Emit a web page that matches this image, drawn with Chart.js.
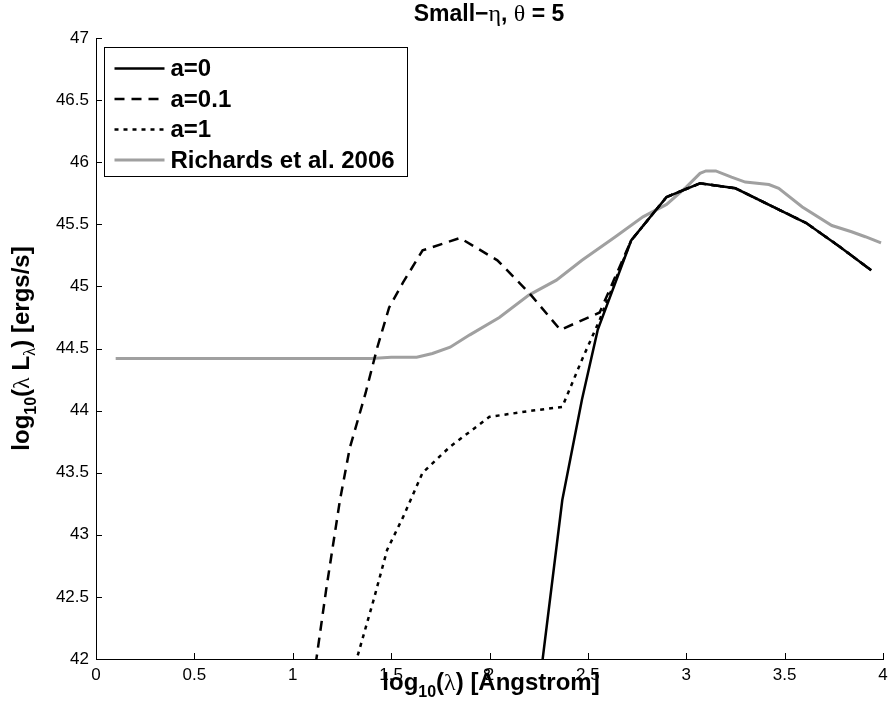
<!DOCTYPE html>
<html lang="en">
<head>
  <meta charset="UTF-8" />
  <title>Small-eta, theta = 5</title>
  <style>
    body {
      margin: 0;
      background-color: white;
    }
    #wrap {
      width: 892px;
      height: 719px;
    }
  </style>
</head>
<body>
  <div id="wrap"><canvas id="sedChart" width="892" height="719"></canvas></div>

  <script src="https://cdn.jsdelivr.net/npm/chart.js"></script>
  <script>
    // values: log10(lambda) and log10(lambda L_lambda)
    const a0X = [2.20, 2.37, 2.47, 2.55, 2.72, 2.90, 3.07, 3.25, 3.61, 3.78, 3.94];
    const a0Y = [41.10, 43.28, 44.09, 44.65, 45.37, 45.72, 45.83, 45.79, 45.51, 45.32, 45.13];

    const a01X = [1.08, 1.17, 1.24, 1.29, 1.37, 1.43, 1.49, 1.56, 1.66, 1.85, 2.04, 2.20, 2.36, 2.56, 2.72, 2.90, 3.07, 3.25, 3.61, 3.78, 3.94];
    const a01Y = [41.55, 42.56, 43.28, 43.70, 44.14, 44.51, 44.83, 45.03, 45.29, 45.39, 45.21, 44.95, 44.65, 44.79, 45.37, 45.72, 45.83, 45.79, 45.51, 45.32, 45.13];

    const a1X = [1.28, 1.41, 1.48, 1.56, 1.66, 1.80, 2.00, 2.22, 2.37, 2.47, 2.56, 2.72, 2.90, 3.07, 3.25, 3.61, 3.78, 3.94];
    const a1Y = [41.75, 42.47, 42.88, 43.14, 43.50, 43.71, 43.95, 44.00, 44.03, 44.41, 44.73, 45.37, 45.72, 45.83, 45.79, 45.51, 45.32, 45.13];

    const richX = [0.10, 1.40, 1.50, 1.63, 1.71, 1.80, 1.90, 2.05, 2.20, 2.34, 2.47, 2.64, 2.78, 2.90, 3.00, 3.07, 3.10, 3.15, 3.23, 3.30, 3.42, 3.47, 3.59, 3.74, 3.84, 3.91, 3.99];
    const richY = [44.42, 44.42, 44.43, 44.43, 44.46, 44.51, 44.61, 44.75, 44.93, 45.05, 45.21, 45.40, 45.56, 45.66, 45.80, 45.91, 45.93, 45.93, 45.88, 45.84, 45.82, 45.79, 45.64, 45.49, 45.44, 45.40, 45.35];

    const seriesLabels = ['a=0', 'a=0.1', 'a=1', 'Richards et al. 2006'];
    const xTicks = [0, 0.5, 1, 1.5, 2, 2.5, 3, 3.5, 4];
    const yTicks = [42, 42.5, 43, 43.5, 44, 44.5, 45, 45.5, 46, 46.5, 47];

    const pts = (xs, ys) => xs.map((x, i) => ({ x: x, y: ys[i] }));

    const SANS = '"Liberation Sans", Arial, sans-serif';
    const SERIF = '"Liberation Serif", "Times New Roman", serif';

    // draw a row of text pieces (font, text, baseline shift) centred on cx
    function pieceWidth(ctx, parts) {
      let w = 0;
      parts.forEach(p => { ctx.font = p.font; w += ctx.measureText(p.t).width; });
      return w;
    }
    function drawPieces(ctx, parts, cx, y) {
      let x = cx - pieceWidth(ctx, parts) / 2;
      parts.forEach(p => {
        ctx.font = p.font;
        ctx.fillText(p.t, x, y + (p.dy || 0));
        x += ctx.measureText(p.t).width;
      });
    }

    const decorations = {
      id: 'decorations',
      afterDraw(chart) {
        const ctx = chart.ctx;
        const area = chart.chartArea;
        const xs = chart.scales.x;
        const ys = chart.scales.y;
        ctx.save();
        ctx.fillStyle = '#000';
        ctx.strokeStyle = '#000';
        ctx.lineWidth = 1;
        ctx.textBaseline = 'alphabetic';
        ctx.textAlign = 'left';

        // inward tick marks
        ctx.beginPath();
        xTicks.forEach(v => {
          const px = Math.round(xs.getPixelForValue(v)) + 0.5;
          ctx.moveTo(px, area.bottom);
          ctx.lineTo(px, area.bottom - 6);
        });
        yTicks.forEach(v => {
          const py = Math.round(ys.getPixelForValue(v)) + 0.5;
          ctx.moveTo(area.left, py);
          ctx.lineTo(area.left + 6, py);
        });
        ctx.stroke();

        // title
        const B23 = 'bold 23px ' + SANS;
        drawPieces(ctx, [
          { t: 'Small\u2212', font: B23 },
          { t: '\u03b7', font: '24px ' + SERIF },
          { t: ', ', font: B23 },
          { t: '\u03b8', font: '24px ' + SERIF },
          { t: ' = 5', font: B23 }
        ], 489, 21);

        // x axis title
        const B24 = 'bold 24px ' + SANS;
        const S16 = 'bold 16px ' + SANS;
        drawPieces(ctx, [
          { t: 'log', font: B24 },
          { t: '10', font: S16, dy: 7 },
          { t: '(', font: B24 },
          { t: '\u03bb', font: '24px ' + SERIF },
          { t: ') [\u00c5ngstrom]', font: B24 }
        ], 491, 690);

        // y axis title, rotated
        ctx.save();
        ctx.translate(29, (area.top + area.bottom) / 2);
        ctx.rotate(-Math.PI / 2);
        drawPieces(ctx, [
          { t: 'log', font: B24 },
          { t: '10', font: S16, dy: 7 },
          { t: '(', font: B24 },
          { t: '\u03bb', font: '24px ' + SERIF },
          { t: ' L', font: B24 },
          { t: '\u03bb', font: '17px ' + SERIF, dy: 6 },
          { t: ') [ergs/s]', font: B24 }
        ], 0, 0);
        ctx.restore();

        // legend box in the upper left corner
        const bx = area.left + 8.5, by = area.top + 9.5, bw = 303, bh = 129;
        ctx.fillStyle = '#fff';
        ctx.fillRect(bx, by, bw, bh);
        ctx.strokeRect(bx, by, bw, bh);
        ctx.font = 'bold 24px ' + SANS;
        ctx.textBaseline = 'middle';
        chart.data.datasets.forEach((ds, i) => {
          const ry = by + 21 + i * 30.5;
          ctx.save();
          ctx.strokeStyle = ds.borderColor;
          ctx.lineWidth = ds.borderWidth;
          ctx.setLineDash(ds.borderDash || []);
          ctx.beginPath();
          ctx.moveTo(bx + 10, ry);
          ctx.lineTo(bx + 60, ry);
          ctx.stroke();
          ctx.restore();
          ctx.fillStyle = '#000';
          ctx.fillText(ds.label, bx + 66, ry + 1);
        });
        ctx.restore();
      }
    };

    new Chart(document.getElementById('sedChart'), {
      type: 'line',
      data: {
        datasets: [
          { label: seriesLabels[0], data: pts(a0X, a0Y), borderColor: '#000', borderWidth: 2.5 },
          { label: seriesLabels[1], data: pts(a01X, a01Y), borderColor: '#000', borderWidth: 2.5, borderDash: [10, 7] },
          { label: seriesLabels[2], data: pts(a1X, a1Y), borderColor: '#000', borderWidth: 2.5, borderDash: [4, 5] },
          { label: seriesLabels[3], data: pts(richX, richY), borderColor: '#a0a0a0', borderWidth: 3 }
        ]
      },
      options: {
        responsive: false,
        animation: false,
        clip: 0,
        elements: {
          point: { radius: 0 },
          line: { tension: 0, fill: false, borderJoinStyle: 'miter' }
        },
        layout: { padding: { left: 0, right: 9, top: 38, bottom: 0 } },
        plugins: {
          legend: { display: false },
          title: { display: false },
          tooltip: { enabled: false }
        },
        scales: {
          x: {
            type: 'linear',
            min: 0,
            max: 4,
            afterFit: s => { s.height = 60; s.paddingLeft = 0; s.paddingRight = 0; },
            afterBuildTicks: s => { s.ticks = xTicks.map(v => ({ value: v })); },
            grid: { display: false, drawTicks: false },
            border: { display: true, color: '#000', width: 1 },
            ticks: { color: '#000', padding: 6, maxRotation: 0, font: { family: SANS, size: 17 }, callback: v => String(v) }
          },
          y: {
            type: 'linear',
            min: 42,
            max: 47,
            afterFit: s => { s.width = 96; s.paddingTop = 0; s.paddingBottom = 0; },
            afterBuildTicks: s => { s.ticks = yTicks.map(v => ({ value: v })); },
            grid: { display: false, drawTicks: false },
            border: { display: true, color: '#000', width: 1 },
            ticks: { color: '#000', padding: 7, font: { family: SANS, size: 17 }, callback: v => String(v) }
          }
        }
      },
      plugins: [decorations]
    });
  </script>
</body>
</html>
